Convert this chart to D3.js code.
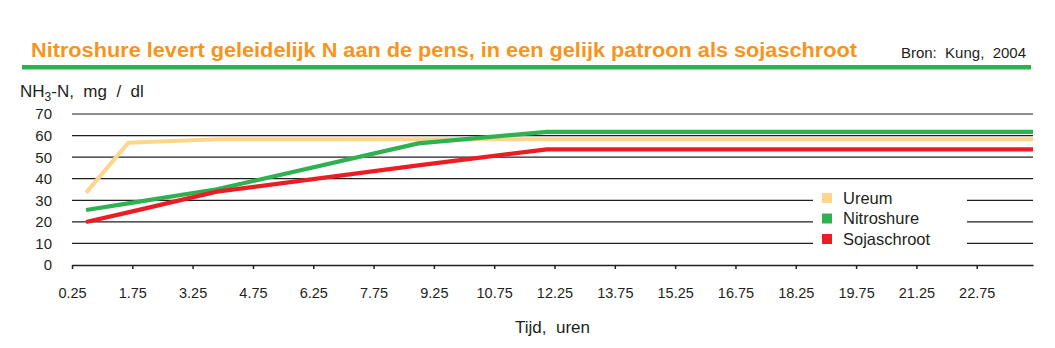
<!DOCTYPE html>
<html>
<head>
<meta charset="utf-8">
<script src="https://d3js.org/d3.v7.min.js"></script>
<style>
  body { margin: 0; background: #fff; }
  svg { display: block; font-family: "Liberation Sans", Arial, Helvetica, sans-serif; }
</style>
</head>
<body>
<svg id="chart" width="1055" height="348"></svg>

<script>
// Data (hours, mg/dl)
const hours      = [0.6, 1.65, 3.85, 8.86, 12.06, 24.15];
const ureum      = [33.5, 56.7, 58.3, 58.3, 58.3, 58.3];
const nitroshure = [25.5, 28.6, 35.1, 56.4, 61.7, 61.7];
const sojaschroot= [19.9, 24.4, 34.0, 46.2, 53.6, 53.6];

const seriesNames  = ["Ureum", "Nitroshure", "Sojaschroot"];
const seriesColors = ["#fdd68b", "#2fb151", "#ec1c24"];

const xTicks = [0.25, 1.75, 3.25, 4.75, 6.25, 7.75, 9.25, 10.75, 12.25,
                13.75, 15.25, 16.75, 18.25, 19.75, 21.25, 22.75];
const yTicks = [0, 10, 20, 30, 40, 50, 60, 70];

const ink = "#231f20";

const svg = d3.select("#chart");

// Scales
const x = d3.scaleLinear().domain([0.25, 24.15]).range([72, 1033]);
const y = d3.scaleLinear().domain([0, 70]).range([265, 114]);

// Title + source
const title = svg.append("text")
  .attr("x", 31)
  .attr("y", 57)
  .attr("fill", "#f7941d")
  .attr("font-size", 20)
  .attr("font-weight", "bold")
  .text("Nitroshure levert geleidelijk N aan de pens, in een gelijk patroon als sojaschroot");
title.attr("textLength", 826).attr("lengthAdjust", "spacingAndGlyphs");

svg.append("text")
  .attr("x", 1026)
  .attr("y", 58)
  .attr("text-anchor", "end")
  .attr("fill", ink)
  .attr("font-size", 15)
  .style("white-space", "pre")
  .text("Bron:  Kung,  2004");

svg.append("rect")
  .attr("x", 22).attr("y", 65)
  .attr("width", 1009).attr("height", 4.5)
  .attr("fill", "#2fb151");

// Y axis label with subscript
const yl = svg.append("text")
  .attr("x", 20)
  .attr("y", 97)
  .attr("fill", ink)
  .attr("font-size", 17)
  .style("white-space", "pre");
yl.append("tspan").text("NH");
yl.append("tspan").attr("font-size", 12).attr("dy", 4).text("3");
yl.append("tspan").attr("dy", -4).text("-N,  mg  /  dl");

// Gridlines
svg.append("g")
  .selectAll("line")
  .data(yTicks.filter(d => d > 0))
  .enter().append("line")
  .attr("x1", x.range()[0]).attr("x2", x.range()[1])
  .attr("y1", d => y(d)).attr("y2", d => y(d))
  .attr("stroke", ink).attr("stroke-width", 1.2);

// Y tick labels
svg.append("g")
  .selectAll("text")
  .data(yTicks)
  .enter().append("text")
  .attr("x", 52)
  .attr("y", d => y(d))
  .attr("dy", "0.36em")
  .attr("text-anchor", "end")
  .attr("fill", ink)
  .attr("font-size", 15)
  .text(d => d);

// X axis
const xAxis = svg.append("g")
  .attr("transform", "translate(0," + y(0) + ")")
  .call(d3.axisBottom(x)
    .tickValues(xTicks)
    .tickSize(4)
    .tickSizeOuter(0)
    .tickPadding(19)
    .tickFormat(d3.format(".2f")));
xAxis.select(".domain").attr("stroke", ink).attr("stroke-width", 1.5);
xAxis.selectAll(".tick line").attr("stroke", ink).attr("stroke-width", 1.5);
xAxis.selectAll(".tick text")
  .attr("fill", ink)
  .attr("font-size", 14.5)
  .attr("font-family", "\"Liberation Sans\", Arial, sans-serif");

svg.append("text")
  .attr("x", (x.range()[0] + x.range()[1]) / 2)
  .attr("y", 333)
  .attr("text-anchor", "middle")
  .attr("fill", ink)
  .attr("font-size", 17)
  .style("white-space", "pre")
  .text("Tijd,  uren");

// Lines
const values = [ureum, nitroshure, sojaschroot];
const line = d3.line()
  .x(d => x(d[0]))
  .y(d => y(d[1]));

svg.append("g")
  .selectAll("path")
  .data(values)
  .enter().append("path")
  .attr("d", v => line(hours.map((h, i) => [h, v[i]])))
  .attr("fill", "none")
  .attr("stroke", (v, i) => seriesColors[i])
  .attr("stroke-width", 4.2)
  .attr("stroke-linejoin", "miter");

// Legend
const legend = svg.append("g");
legend.append("rect")
  .attr("x", 813).attr("y", 187)
  .attr("width", 154).attr("height", 63)
  .attr("fill", "#fff");

const item = legend.selectAll("g.item")
  .data(seriesNames)
  .enter().append("g")
  .attr("class", "item")
  .attr("transform", (d, i) => "translate(822," + (198 + i * 20.5) + ")");

item.append("rect")
  .attr("x", 0).attr("y", -5)
  .attr("width", 10).attr("height", 10)
  .attr("fill", (d, i) => seriesColors[i]);

item.append("text")
  .attr("x", 21)
  .attr("dy", "0.36em")
  .attr("fill", ink)
  .attr("font-size", 16.5)
  .text(d => d);
</script>
</body>
</html>
